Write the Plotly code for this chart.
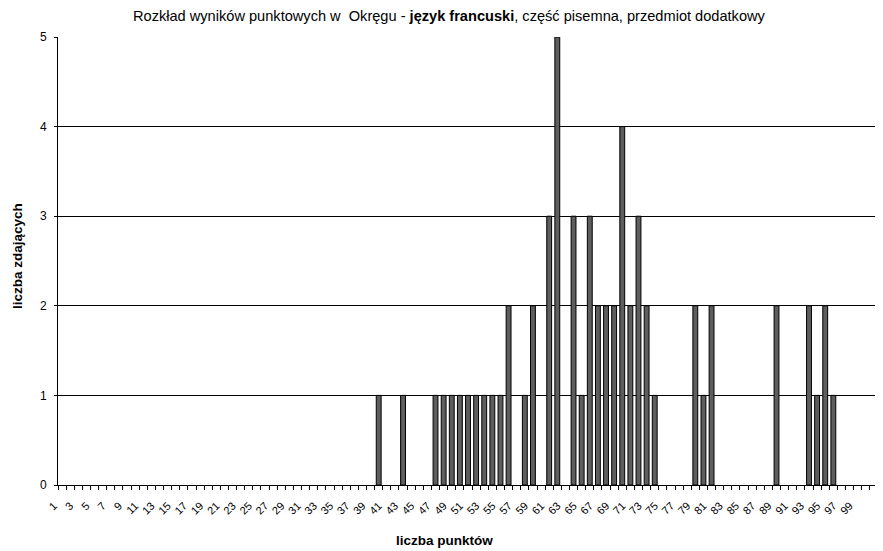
import plotly.graph_objects as go

# categories on the x axis (points), labels shown every second category
categories = list(range(1, 102))
tick_labels = [str(k) for k in range(1, 100, 2)]
tick_positions = list(range(1, 100, 2))

# scores that occur and how many candidates got them
bar_scores = [40, 43, 47, 48, 49, 50, 51, 52, 53, 54, 55, 56, 58, 59, 61, 62,
              64, 65, 66, 67, 68, 69, 70, 71, 72, 73, 74, 79, 80, 81, 89, 93,
              94, 95, 96]
bar_counts = [1, 1, 1, 1, 1, 1, 1, 1, 1, 1, 1, 2, 1, 2, 3, 5,
              3, 1, 3, 2, 2, 2, 4, 2, 3, 2, 1, 2, 1, 2, 2, 2,
              1, 2, 1]

y_ticks = [0, 1, 2, 3, 4, 5]

FONT = "Liberation Sans, Arial, sans-serif"

# the html page adds an 8px body margin; compensate so page pixels match
OFF = 8
W, H = 883 - OFF, 551 - OFF
L, R, T, B = 58 - OFF, 5, 37 - OFF, 551 - 485
pw = W - L - R
ph = H - T - B


def px_x(x):
    return (x - OFF - L) / pw


def px_y(y):
    return (H - B - (y - OFF)) / ph


fig = go.Figure()
fig.add_trace(go.Bar(
    x=bar_scores, y=bar_counts, width=0.6,
    marker=dict(color="#5e5e5e", line=dict(color="black", width=1)),
))

fig.update_layout(
    width=W, height=H,
    margin=dict(l=L, r=R, t=T, b=B, autoexpand=False),
    paper_bgcolor="white", plot_bgcolor="white",
    font=dict(family=FONT, size=11, color="black"),
    showlegend=False,
    xaxis=dict(
        range=[categories[0] - 0.5, categories[-1] + 0.5],
        tickmode="array", tickvals=tick_positions, ticktext=tick_labels,
        tickangle=-45, ticks="", ticklabelshift=-8, ticklabelstandoff=9,
        tickfont=dict(family=FONT, size=11),
        showline=True, linecolor="black", linewidth=1,
        showgrid=False, zeroline=False,
        minor=dict(tickmode="linear", tick0=0.5, dtick=1, ticks="outside",
                   ticklen=4, tickcolor="black", tickwidth=1, showgrid=False),
    ),
    yaxis=dict(
        range=[0, 5], tickmode="array", tickvals=y_ticks,
        ticks="outside", ticklen=3, tickcolor="black", ticklabelstandoff=5,
        tickfont=dict(family=FONT, size=12),
        showline=True, linecolor="black", linewidth=1,
        showgrid=True, gridcolor="black", gridwidth=1, zeroline=False,
    ),
    annotations=[
        dict(text="Rozkład wyników punktowych w  Okręgu - <b>język francuski</b>, część pisemna, przedmiot dodatkowy",
             x=px_x(449.5), y=px_y(6), xref="paper", yref="paper",
             showarrow=False, xanchor="center", yanchor="top",
             font=dict(family=FONT, size=14.6)),
        dict(text="<b>liczba punktów</b>", x=px_x(444), y=px_y(540),
             xref="paper", yref="paper", showarrow=False,
             xanchor="center", yanchor="middle",
             font=dict(family=FONT, size=13.5)),
        dict(text="<b>liczba zdających</b>", x=px_x(17), y=px_y(256),
             xref="paper", yref="paper", showarrow=False, textangle=-90,
             xanchor="center", yanchor="middle",
             font=dict(family=FONT, size=13.5)),
    ],
)

fig.write_html("out.html")
